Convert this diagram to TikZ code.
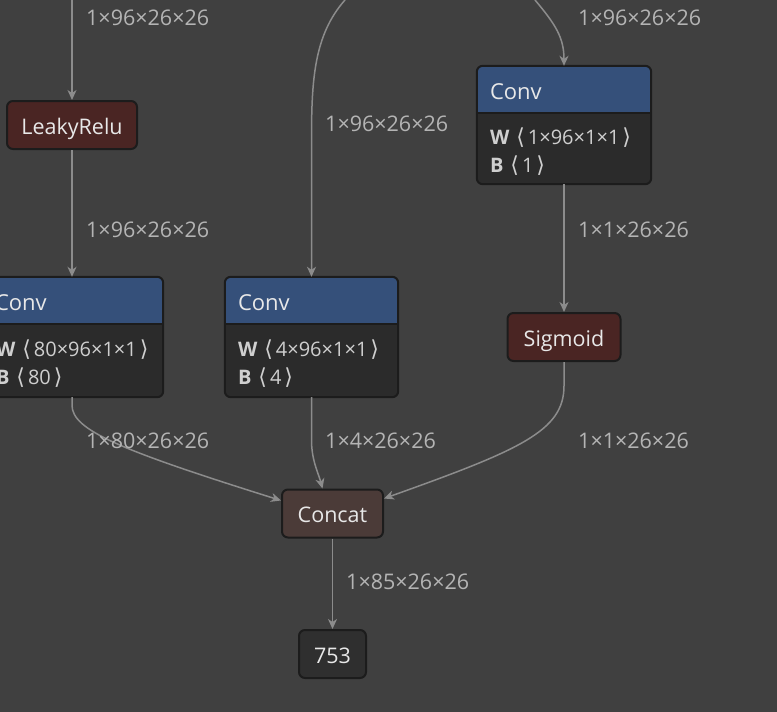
\documentclass[tikz,border=0pt]{standalone}
\usepackage{fontspec}
\setmainfont{Open Sans}
\newfontfamily\brfont{DejaVu Sans}
\usetikzlibrary{arrows.meta}
\definecolor{bgcol}{HTML}{404040}
\definecolor{convhead}{HTML}{35507A}
\definecolor{convbody}{HTML}{2B2B2B}
\definecolor{actcol}{HTML}{4A2523}
\definecolor{catcol}{HTML}{4B3B38}
\definecolor{outcol}{HTML}{2F2F2F}
\definecolor{rimcol}{HTML}{1C1C1C}
\definecolor{edgecol}{HTML}{8C8C8C}
\definecolor{labcol}{HTML}{B4B4B4}
\definecolor{txtcol}{HTML}{E8E8E8}
\definecolor{attrcol}{HTML}{CFCFCF}
\newcommand{\ang}[1]{\hspace{7pt}{\brfont\fontsize{22}{24}\selectfont ⟨}\hspace{3pt}#1\hspace{3pt}{\brfont\fontsize{22}{24}\selectfont ⟩}}

\begin{document}
\begin{tikzpicture}[x=1pt,y=-1pt,
    op/.style={draw=rimcol,line width=2pt,rounded corners=6pt,text=txtcol,
        font=\fontsize{21.5}{24}\selectfont,minimum height=48pt,inner sep=0pt,
        text height=18pt,text depth=0pt},
    convbox/.style={fill=convbody,rounded corners=6pt,inner sep=0pt},
    head/.style={anchor=west,inner sep=0pt,text=txtcol,font=\fontsize{22}{24}\selectfont,
        text height=14pt,text depth=0pt},
    attr/.style={anchor=west,inner sep=0pt,text=attrcol,font=\fontsize{20}{22}\selectfont,
        text height=13pt,text depth=3pt},
    edge/.style={draw=edgecol,line width=1.5pt,-{Stealth[length=10pt,width=9pt,inset=3pt]}},
    lab/.style={anchor=west,inner sep=0pt,text=labcol,font=\fontsize{21.5}{24}\selectfont,
        text height=14pt,text depth=0pt}]
    \useasboundingbox (0,0) rectangle (777,712);
    \clip (0,0) rectangle (777,712);
    \fill[bgcol] (0,0) rectangle (777,712);

    % operator nodes
    \node[op,fill=actcol,minimum width=130pt] (relu) at (72,125) {LeakyRelu};
    \node[op,fill=actcol,minimum width=113pt] (sigm) at (564,337) {Sigmoid};
    \node[op,fill=catcol,minimum width=101pt] (concat) at (332.5,513.5) {Concat};
    \node[op,fill=outcol,minimum width=67pt] (out) at (332.5,654) {753};

    % Conv left
    \node[convbox,minimum width=182pt,minimum height=120pt] (convA) at (72,337) {};
    \begin{scope}
        \clip[rounded corners=6pt] (convA.south west) rectangle (convA.north east);
        \fill[convhead] (convA.north west) rectangle ([yshift=-47pt]convA.north east);
    \end{scope}
    \draw[rimcol,line width=1.5pt] ([yshift=-47pt]convA.north west) -- ([yshift=-47pt]convA.north east);
    \draw[rimcol,line width=2pt,rounded corners=6pt] (convA.south west) rectangle (convA.north east);
    \node[head] (convAh) at ([xshift=14pt,yshift=-27pt]convA.north west) {Conv};
    \node[attr] (convAw) at ([xshift=15pt,yshift=-75pt]convA.north west) {\textbf{W}\ang{80×96×1×1}};
    \node[attr] (convAb) at ([xshift=15pt,yshift=-103pt]convA.north west) {\textbf{B}\ang{80}};

    % Conv middle
    \node[convbox,minimum width=173pt,minimum height=120pt] (convB) at (311.5,337) {};
    \begin{scope}
        \clip[rounded corners=6pt] (convB.south west) rectangle (convB.north east);
        \fill[convhead] (convB.north west) rectangle ([yshift=-47pt]convB.north east);
    \end{scope}
    \draw[rimcol,line width=1.5pt] ([yshift=-47pt]convB.north west) -- ([yshift=-47pt]convB.north east);
    \draw[rimcol,line width=2pt,rounded corners=6pt] (convB.south west) rectangle (convB.north east);
    \node[head] (convBh) at ([xshift=13pt,yshift=-27pt]convB.north west) {Conv};
    \node[attr] (convBw) at ([xshift=13pt,yshift=-75pt]convB.north west) {\textbf{W}\ang{4×96×1×1}};
    \node[attr] (convBb) at ([xshift=13pt,yshift=-103pt]convB.north west) {\textbf{B}\ang{4}};

    % Conv right
    \node[convbox,minimum width=174pt,minimum height=118pt] (convC) at (564,125) {};
    \begin{scope}
        \clip[rounded corners=6pt] (convC.south west) rectangle (convC.north east);
        \fill[convhead] (convC.north west) rectangle ([yshift=-47pt]convC.north east);
    \end{scope}
    \draw[rimcol,line width=1.5pt] ([yshift=-47pt]convC.north west) -- ([yshift=-47pt]convC.north east);
    \draw[rimcol,line width=2pt,rounded corners=6pt] (convC.south west) rectangle (convC.north east);
    \node[head] (convCh) at ([xshift=13pt,yshift=-27pt]convC.north west) {Conv};
    \node[attr] (convCw) at ([xshift=13pt,yshift=-74pt]convC.north west) {\textbf{W}\ang{1×96×1×1}};
    \node[attr] (convCb) at ([xshift=13pt,yshift=-102pt]convC.north west) {\textbf{B}\ang{1}};

    % connectors
    \coordinate (inA) at (72,0);
    \coordinate (inB) at (345,0);
    \coordinate (inC) at (535,0);
    \draw[edge] (inA) -- (relu);
    \draw[edge] (relu) -- (convA);
    \draw[edge] (inB) .. controls (314,35) and (311.5,80) .. (311.5,140) -- (convB.north);
    \draw[edge] (inC) .. controls (556,25) and (564,38) .. (convC.north);
    \draw[edge] (convC) -- (sigm);
    \draw[edge] (convA.south) -- ++(0,8) .. controls +(0,25) and (120,450) .. ([yshift=13pt]concat.west);
    \draw[edge] (convB.south) -- ++(0,43) .. controls +(0,20) and +(-4,-15) .. ([xshift=-10pt]concat.north);
    \draw[edge] (sigm.south) -- ++(0,24) .. controls +(0,45) and (520,450) .. ([yshift=15pt]concat.east);
    \draw[edge] (concat) -- (out);

    % tensor shapes
    \node[lab] (sA) at (86,18) {1×96×26×26};
    \node[lab] (sC) at (578,18) {1×96×26×26};
    \node[lab] (sB) at (325,124) {1×96×26×26};
    \node[lab] (sR) at (86,230) {1×96×26×26};
    \node[lab] (sCs) at (578,230) {1×1×26×26};
    \node[lab] (sAc) at (86,441) {1×80×26×26};
    \node[lab] (sBc) at (325,441) {1×4×26×26};
    \node[lab] (sSc) at (578,441) {1×1×26×26};
    \node[lab] (sOut) at (346,582) {1×85×26×26};
\end{tikzpicture}
\end{document}
